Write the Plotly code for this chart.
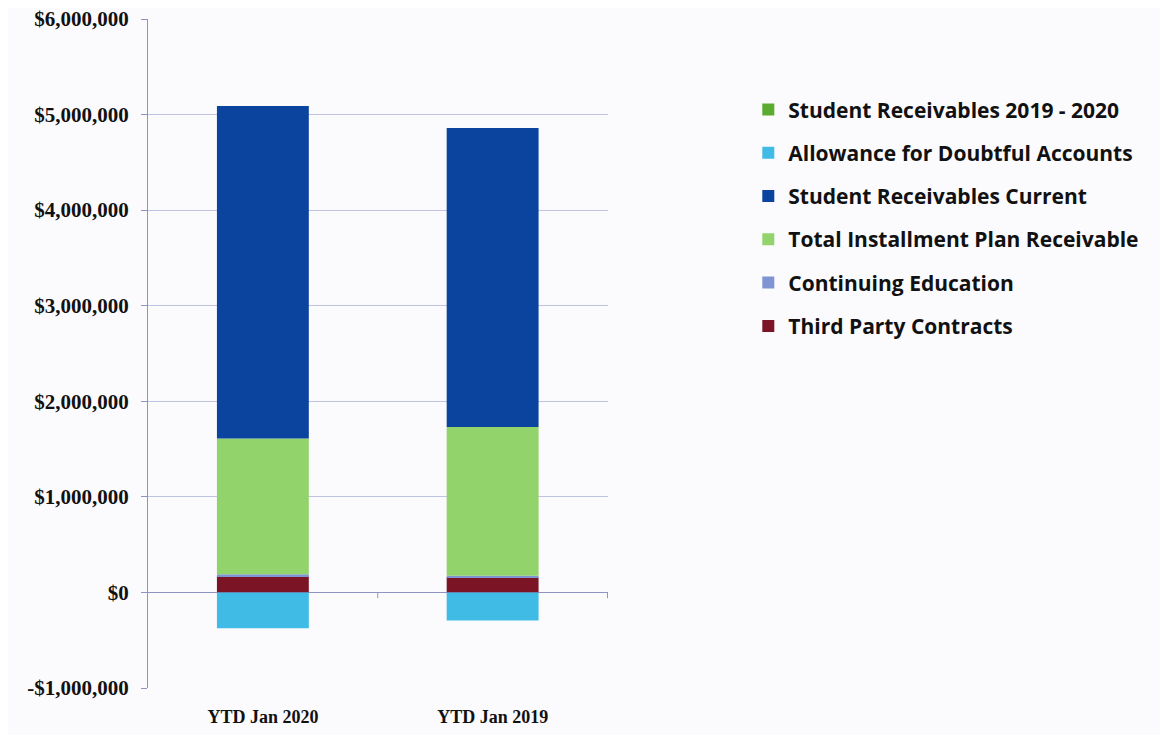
import plotly.graph_objects as go

categories = ["YTD Jan 2020", "YTD Jan 2019"]

third_party = [170000, 160000]
continuing_ed = [20000, 15000]
installment = [1420000, 1555000]
current = [3480000, 3130000]
allowance = [-376000, -295000]
sr_2019_2020 = [0, 0]

tick_vals = [-1000000, 0, 1000000, 2000000, 3000000, 4000000, 5000000, 6000000]
tick_text = ["-$1,000,000", "$0", "$1,000,000", "$2,000,000", "$3,000,000",
             "$4,000,000", "$5,000,000", "$6,000,000"]

series = [
    ("Third Party Contracts", third_party, "#7b1526"),
    ("Continuing Education", continuing_ed, "#7f95d3"),
    ("Total Installment Plan Receivable", installment, "#93d36c"),
    ("Student Receivables Current", current, "#0b449f"),
    ("Allowance for Doubtful Accounts", allowance, "#40bbe6"),
    ("Student Receivables 2019 - 2020", sr_2019_2020, "#5aab2f"),
]

fig = go.Figure()
for i, (name, vals, color) in enumerate(series):
    fig.add_trace(go.Bar(
        x=categories, y=vals, name=name, marker_color=color,
        marker_line_width=0, legendgroup=f"g{i}", legendrank=1000 - i,
    ))

fig.update_layout(
    barmode="relative",
    bargap=0.6,
    width=1160, height=727,
    margin=dict(l=140, r=560, t=11, b=47),
    paper_bgcolor="#fbfafc",
    plot_bgcolor="#fbfafc",
    legend=dict(
        x=1.305, y=0.895, xanchor="left", yanchor="top",
        traceorder="grouped", tracegroupgap=13,
        font=dict(family="Open Sans", size=21, color="#111111", weight="bold"),
        bgcolor="rgba(0,0,0,0)", itemwidth=30,
    ),
    font=dict(family="Liberation Serif", size=16, color="#111111"),
    showlegend=True,
)

fig.update_yaxes(
    range=[-1000000, 6000000],
    automargin=False,
    ticklabeloverflow="allow",
    tickvals=tick_vals, ticktext=tick_text,
    tickfont=dict(family="Liberation Serif", size=21, color="#111111", weight="bold"),
    ticklabelstandoff=8,
    showgrid=True, gridcolor="#c0c3e0", gridwidth=1,
    showline=True, linecolor="#8e93c2", linewidth=1,
    ticks="outside", ticklen=6, tickcolor="#8e93c2",
    zeroline=True, zerolinecolor="#8e93c2", zerolinewidth=1,
)
fig.update_xaxes(
    automargin=False,
    ticklabeloverflow="allow",
    showline=False, showgrid=False, ticks="",
    ticklabelstandoff=16,
    tickfont=dict(family="Liberation Serif", size=18, color="#111111", weight="bold"),
)

# category divider ticks on the zero line
for xv in [0.5, 1.5]:
    fig.add_shape(type="line", xref="x", yref="y", x0=xv, x1=xv, y0=0, y1=-60000,
                  line=dict(color="#8e93c2", width=1))

fig.write_html("out.html")
